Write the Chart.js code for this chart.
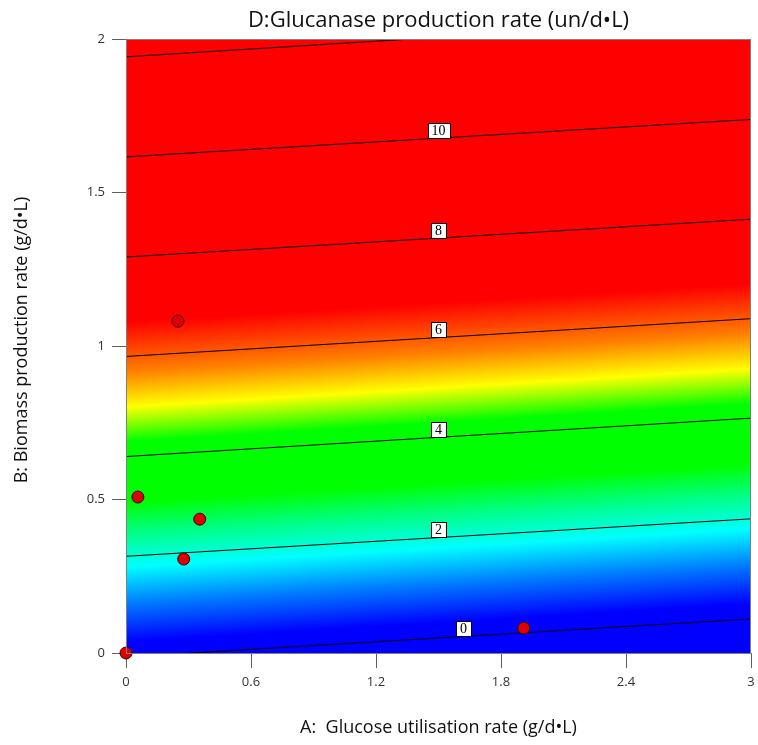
<!DOCTYPE html>
<html>
<head>
<meta charset="utf-8">
<script src="https://cdn.jsdelivr.net/npm/chart.js@4"></script>
<style>
  html, body { margin: 0; padding: 0; background: #fff; }
  #wrap { width: 758px; height: 745px; }
</style>
</head>
<body>
<div id="wrap"><canvas id="grafico" width="758" height="745"></canvas></div>
<script>
// Textos
const titulo = 'D:Glucanase production rate (un/d\u2022L)';
const tituloX = 'A:  Glucose utilisation rate (g/d\u2022L)';
const tituloY = 'B: Biomass production rate (g/d\u2022L)';

// Ticks de los ejes
const ticksX = [0, 0.6, 1.2, 1.8, 2.4, 3];
const ticksY = [0, 0.5, 1, 1.5, 2];

// Curvas de nivel: valor, y en x=0, y en x=3
const nivelesContorno = [0, 2, 4, 6, 8, 10, 12];
const contornoEnX0 = [-0.013, 0.315, 0.640, 0.966, 1.290, 1.616, 1.942];
const contornoEnX3 = [0.111, 0.437, 0.765, 1.089, 1.413, 1.738, 2.069];
const etiquetaX = [1.62, 1.5, 1.5, 1.5, 1.5, 1.5, null];

// Puntos del diseño experimental
const puntosX = [0, 0.057, 0.277, 0.354, 0.249, 1.909];
const puntosY = [0, 0.508, 0.306, 0.436, 1.081, 0.081];

// Escala de colores (valor de la respuesta -> color)
const escalaValores = [0.3, 1.1, 1.8, 2.5, 3.1, 4.3, 5.0, 5.7, 6.7];
const escalaColores = ['#0000ff', '#0080ff', '#00ffff', '#00ff80', '#00ff00', '#00ff00', '#ffff00', '#ff8000', '#ff0000'];

const fuente = "'Open Sans', 'Noto Sans', sans-serif";

// Datasets de las curvas de nivel
const datasetsContorno = nivelesContorno.map(function(nivel, i){
  return {
    type: 'line',
    label: 'z=' + nivel,
    data: [{x: 0, y: contornoEnX0[i]}, {x: 3, y: contornoEnX3[i]}],
    borderColor: '#000',
    borderWidth: 1,
    pointRadius: 0,
    fill: false,
    order: 2
  };
});

// Plugin: fondo degradado, etiquetas de contorno y títulos
const fondoPlugin = {
  id: 'fondo',
  beforeDatasetsDraw(chart){
    const ctx = chart.ctx;
    const a = chart.chartArea;
    const sx = chart.scales.x, sy = chart.scales.y;
    const n = nivelesContorno.length - 1;
    const p0 = {x: sx.getPixelForValue(0), y: sy.getPixelForValue(contornoEnX0[0])};
    const p1 = {x: sx.getPixelForValue(0), y: sy.getPixelForValue(contornoEnX0[n])};
    // dirección de las curvas
    let dx = sx.getPixelForValue(3) - sx.getPixelForValue(0);
    let dy = sy.getPixelForValue(contornoEnX3[0]) - sy.getPixelForValue(contornoEnX0[0]);
    const len = Math.hypot(dx, dy);
    dx /= len; dy /= len;
    let nx = -dy, ny = dx;
    let proy = (p1.x - p0.x) * nx + (p1.y - p0.y) * ny;
    if (proy < 0) { nx = -nx; ny = -ny; proy = -proy; }
    const zMax = nivelesContorno[n];
    const grad = ctx.createLinearGradient(p0.x, p0.y, p0.x + nx * proy, p0.y + ny * proy);
    escalaValores.forEach(function(v, i){
      grad.addColorStop(Math.min(1, Math.max(0, v / zMax)), escalaColores[i]);
    });
    ctx.save();
    ctx.fillStyle = grad;
    ctx.fillRect(a.left, a.top, a.right - a.left, a.bottom - a.top);
    ctx.restore();
  },
  afterDatasetsDraw(chart){
    const ctx = chart.ctx;
    const sx = chart.scales.x, sy = chart.scales.y;
    ctx.save();
    ctx.font = "14px 'Liberation Serif', 'DejaVu Serif', serif";
    ctx.textAlign = 'center';
    ctx.textBaseline = 'middle';
    nivelesContorno.forEach(function(nivel, i){
      if (etiquetaX[i] === null) return;
      const t = etiquetaX[i] / 3;
      const yv = contornoEnX0[i] + (contornoEnX3[i] - contornoEnX0[i]) * t;
      const px = sx.getPixelForValue(etiquetaX[i]);
      const py = sy.getPixelForValue(yv) - 8;
      const txt = String(nivel);
      const w = ctx.measureText(txt).width + 8;
      const h = 15;
      ctx.fillStyle = '#fff';
      ctx.fillRect(Math.round(px - w / 2) + 0.5, Math.round(py - h / 2) + 0.5, Math.round(w), h);
      ctx.strokeStyle = '#000';
      ctx.lineWidth = 1;
      ctx.strokeRect(Math.round(px - w / 2) + 0.5, Math.round(py - h / 2) + 0.5, Math.round(w), h);
      ctx.fillStyle = '#000';
      ctx.fillText(txt, px, py + 1);
    });
    ctx.restore();
  },
  afterDraw(chart){
    const ctx = chart.ctx;
    const a = chart.chartArea;
    ctx.save();
    // marco del área
    ctx.strokeStyle = '#808080';
    ctx.lineWidth = 1;
    ctx.strokeRect(a.left + 0.5, a.top + 0.5, a.right - a.left - 1, a.bottom - a.top);
    // títulos
    ctx.fillStyle = '#111';
    ctx.textAlign = 'center';
    ctx.textBaseline = 'middle';
    ctx.font = '22px ' + fuente;
    ctx.fillText(titulo, (a.left + a.right) / 2, 21);
    ctx.font = '18px ' + fuente;
    ctx.fillText(tituloX, (a.left + a.right) / 2, 728);
    ctx.translate(22, 340);
    ctx.rotate(-Math.PI / 2);
    ctx.fillText(tituloY, 0, 0);
    ctx.restore();
  }
};

const ctx = document.getElementById('grafico').getContext('2d');
const grafico = new Chart(ctx, {
  type: 'scatter',
  data: {
    datasets: datasetsContorno.concat([{
      type: 'scatter',
      label: 'Puntos',
      data: puntosX.map(function(x, i){ return {x: x, y: puntosY[i]}; }),
      backgroundColor: '#dc0000',
      borderColor: '#3a0000',
      borderWidth: 1,
      pointRadius: 6,
      clip: false,
      order: 1
    }])
  },
  options: {
    responsive: false,
    animation: false,
    events: [],
    layout: { padding: { left: 0, right: 4, top: 39, bottom: 0 } },
    plugins: { legend: { display: false }, tooltip: { enabled: false }, title: { display: false } },
    scales: {
      x: {
        type: 'linear',
        min: 0, max: 3,
        afterBuildTicks: function(scale){ scale.ticks = ticksX.map(function(v){ return {value: v}; }); },
        afterFit: function(scale){ scale.height = 92; scale.paddingLeft = 0; scale.paddingRight = 0; },
        grid: { drawOnChartArea: false, drawTicks: true, tickLength: 15, color: '#606060' },
        border: { display: true, color: '#808080' },
        ticks: { padding: 6, color: '#333', font: { family: fuente, size: 13 }, maxRotation: 0,
          callback: function(v){ return String(v); } }
      },
      y: {
        type: 'linear',
        min: 0, max: 2,
        afterBuildTicks: function(scale){ scale.ticks = ticksY.map(function(v){ return {value: v}; }); },
        afterFit: function(scale){ scale.width = 126; scale.paddingTop = 0; scale.paddingBottom = 0; },
        grid: { drawOnChartArea: false, drawTicks: true, tickLength: 14, color: '#606060' },
        border: { display: true, color: '#808080' },
        ticks: { padding: 7, color: '#333', font: { family: fuente, size: 13 },
          callback: function(v){ return String(v); } }
      }
    }
  },
  plugins: [fondoPlugin]
});
</script>
</body>
</html>
